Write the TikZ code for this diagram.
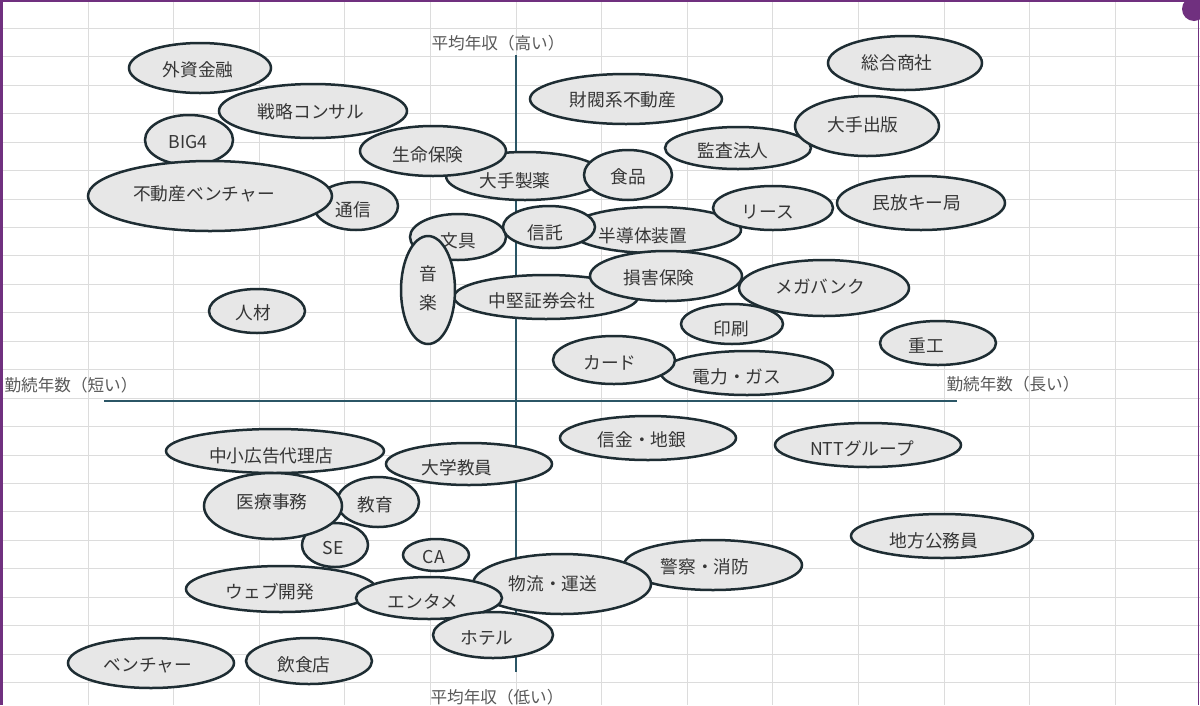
\documentclass[tikz,border=0pt]{standalone}
\usepackage{fontspec}
\setmainfont{Noto Sans CJK JP}
\usetikzlibrary{shapes.geometric}
\definecolor{edgec}{HTML}{1E2D33}
\definecolor{fillc}{HTML}{E7E7E7}
\definecolor{txtc}{HTML}{363636}
\definecolor{axisc}{HTML}{2B5666}
\definecolor{gridc}{HTML}{DCDCDC}
\definecolor{axtxt}{HTML}{595959}
\definecolor{purp}{HTML}{70307F}
\tikzset{
  bub/.style={ellipse, draw=edgec, line width=2.5pt, fill=fillc, inner sep=0pt},
  lab/.style={text=txtc, font=\fontsize{17.7}{17.7}\selectfont, inner sep=0pt},
  axl/.style={text=axtxt, font=\fontsize{16.6}{16.6}\selectfont, inner sep=0pt},
  axisline/.style={draw=axisc, line width=2.4pt},
  gridline/.style={draw=gridc, line width=1pt}
}
\newcommand\bubble[8]{%
  \node[bub, minimum width=#4pt, minimum height=#5pt] (#1) at (#2,#3) {};
  \node[lab] (#1t) at (#6,#7) {#8};}
\begin{document}
\begin{tikzpicture}[x=1pt,y=-1pt]
\useasboundingbox (0,0) rectangle (1200,705);
\fill[white] (0,0) rectangle (1200,705);
\begin{scope}
\clip (0,0) rectangle (1200,705);
\foreach \i in {0,...,12} \draw[gridline] ({88+85.6*\i},0) -- ({88+85.6*\i},705);
\foreach \j in {0,...,23} \draw[gridline] (0,{28.3+28.45*\j}) -- (1200,{28.3+28.45*\j});
% axes
\coordinate (vt) at (516,55);
\coordinate (vb) at (516,672);
\coordinate (hl) at (104,401);
\coordinate (hr) at (957,401);
\draw[axisline] (vt) -- (vb);
\draw[axisline] (hl) -- (hr);
\node[axl] (ytop) at (498,43) {平均年収（高い）};
\node[axl] (ybot) at (497,697) {平均年収（低い）};
\node[axl] (xl) at (71,385) {勤続年数（短い）};
\node[axl] (xr) at (1013,384) {勤続年数（長い）};
% upper half
\bubble{b1}{200}{68}{142}{50}{198}{70}{外資金融}
\bubble{b2}{189}{140}{88}{50}{188}{142}{BIG4}
\bubble{b3}{356}{206}{84}{48}{353}{210}{通信}
\bubble{b4}{210}{196}{244}{70}{204}{194}{不動産ベンチャー}
\bubble{b5}{525}{176}{158}{48}{515}{181}{大手製薬}
\bubble{b6}{313}{111}{188}{54}{311}{112}{戦略コンサル}
\bubble{b7}{433}{151}{146}{50}{428}{155}{生命保険}
\bubble{b8}{628}{175}{88}{50}{628}{177}{食品}
\bubble{b9}{626}{99}{192}{50}{623}{100}{財閥系不動産}
\bubble{b10}{738}{148}{146}{42}{733}{151}{監査法人}
\bubble{b11}{867}{126}{144}{60}{863}{125}{大手出版}
\bubble{b12}{905}{63}{154}{54}{897}{63}{総合商社}
\bubble{b13}{921}{203}{168}{54}{917}{203}{民放キー局}
\bubble{b14}{655}{230}{172}{46}{643}{236}{半導体装置}
\bubble{b15}{773}{208}{120}{44}{768}{212}{リース}
\bubble{b17}{458}{237}{96}{46}{458}{241}{文具}
\bubble{b16}{549}{227}{92}{42}{545}{233}{信託}
\bubble{b18}{546}{297}{184}{44}{542}{301}{中堅証券会社}
\node[bub, minimum width=54pt, minimum height=108pt] (b19) at (428,290) {};
\node[lab, align=center, font=\fontsize{17.7}{29}\selectfont] (b19t) at (428,288) {音\\楽};
\bubble{b20}{666}{276}{152}{50}{659}{278}{損害保険}
\bubble{b21}{824}{288}{170}{56}{820}{287}{メガバンク}
\bubble{b22}{732}{324}{102}{40}{731}{329}{印刷}
\bubble{b23}{938}{343}{116}{44}{926}{346}{重工}
\bubble{b24}{747}{373}{172}{44}{737}{377}{電力・ガス}
\bubble{b25}{614}{360}{122}{48}{610}{363}{カード}
\bubble{b26}{257}{311}{96}{44}{253}{313}{人材}
% lower half
\bubble{b27}{275}{451}{218}{44}{271}{456}{中小広告代理店}
\bubble{b28}{378}{502}{82}{50}{375}{505}{教育}
\bubble{b29}{335}{545}{66}{44}{333}{548}{SE}
\bubble{b30}{273}{506}{138}{66}{272}{502}{医療事務}
\bubble{b31}{469}{464}{166}{42}{457}{468}{大学教員}
\bubble{b32}{436}{555}{66}{32}{434}{557}{CA}
\bubble{b33}{281}{589}{190}{46}{270}{592}{ウェブ開発}
\bubble{b34}{713}{565}{178}{50}{705}{567}{警察・消防}
\bubble{b35}{562}{584}{178}{60}{553}{584}{物流・運送}
\bubble{b36}{429}{598}{146}{42}{423}{602}{エンタメ}
\bubble{b37}{493}{635}{120}{46}{487}{638}{ホテル}
\bubble{b38}{151}{663}{166}{50}{148}{665}{ベンチャー}
\bubble{b39}{309}{661}{126}{46}{304}{665}{飲食店}
\bubble{b40}{648}{438}{176}{44}{642}{440}{信金・地銀}
\bubble{b41}{868}{445}{186}{44}{862}{449}{NTTグループ}
\bubble{b42}{942}{536}{182}{44}{934}{541}{地方公務員}
% frame and corner badge
\draw[purp, line width=3pt] (1.5,705) -- (1.5,0);
\draw[purp, line width=1.5pt] (0,0.75) -- (1200,0.75);
\draw[purp, line width=1.5pt] (1198.5,0) -- (1198.5,705);
\fill[purp] (1194,9) circle (12);
\end{scope}
\end{tikzpicture}
\end{document}
